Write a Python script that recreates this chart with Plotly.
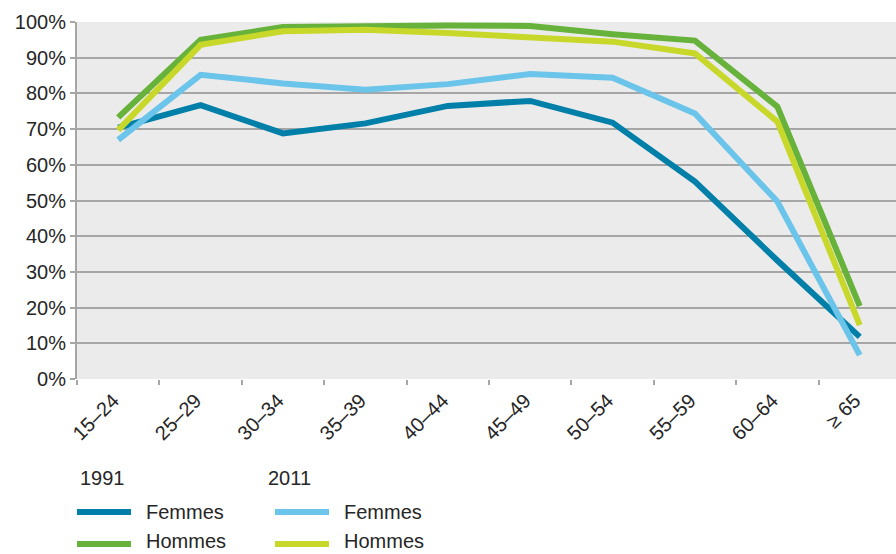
import plotly.graph_objects as go

categories = ["15–24", "25–29", "30–34", "35–39", "40–44", "45–49", "50–54", "55–59", "60–64", "≥ 65"]
femmes_1991 = [70.4, 76.7, 68.8, 71.6, 76.5, 77.9, 71.8, 55.3, 33.2, 11.8]
hommes_1991 = [73.3, 95.0, 98.6, 99.0, 99.0, 98.9, 96.6, 94.8, 76.3, 20.4]
femmes_2011 = [67.0, 85.2, 82.8, 81.0, 82.6, 85.4, 84.4, 74.4, 49.7, 6.7]
hommes_2011 = [69.7, 93.6, 97.4, 97.8, 96.9, 95.5, 94.5, 91.2, 72.1, 15.1]
y_ticks = [0, 10, 20, 30, 40, 50, 60, 70, 80, 90, 100]
y_tick_labels = [f"{v}%" for v in y_ticks]
years = ["1991", "2011"]

FONT = "Liberation Sans"
TXT = "#262626"
W, H = 896, 554
ML, MR, MT, MB = 77, 0, 22, 175
PW, PH = W - ML - MR, H - MT - MB

series = [
    ("Femmes", "1991", femmes_1991, "#0080A9"),
    ("Hommes", "1991", hommes_1991, "#67B23A"),
    ("Femmes", "2011", femmes_2011, "#6BC4EA"),
    ("Hommes", "2011", hommes_2011, "#C8D82A"),
]

fig = go.Figure()
for name, year, vals, col in series:
    fig.add_trace(go.Scatter(
        x=categories, y=vals, mode="lines", name=f"{name} {year}",
        line=dict(color=col, width=6),
        hoverinfo="skip", showlegend=False,
    ))

# manual legend (pixel positions converted to paper coordinates)
def px(x):
    return (x - ML) / PW

def py(y):
    return (H - MB - y) / PH

col_x = {"1991": 77, "2011": 275}
title_x = {"1991": 78, "2011": 266}
row_y = {"Femmes": 512, "Hommes": 544}
text_y = {"Femmes": 512, "Hommes": 541}
annotations = []
shapes = []
for year in years:
    annotations.append(dict(
        text=year, xref="paper", yref="paper", x=px(title_x[year]), y=py(478),
        xanchor="left", yanchor="middle", showarrow=False,
        font=dict(family=FONT, size=20, color=TXT),
    ))
for name, year, vals, col in series:
    x0 = col_x[year]
    shapes.append(dict(
        type="line", xref="paper", yref="paper",
        x0=px(x0), x1=px(x0 + 54), y0=py(row_y[name]), y1=py(row_y[name]),
        line=dict(color=col, width=6),
    ))
    annotations.append(dict(
        text=name, xref="paper", yref="paper", x=px(x0 + 67), y=py(text_y[name]),
        xanchor="left", yanchor="middle", showarrow=False,
        font=dict(family=FONT, size=20, color=TXT),
    ))

fig.update_layout(
    width=W, height=H,
    margin=dict(l=ML, r=MR, t=MT, b=MB, autoexpand=False),
    paper_bgcolor="white",
    plot_bgcolor="#ECEBEB",
    font=dict(family=FONT, size=20, color=TXT),
    showlegend=False,
    annotations=annotations,
    shapes=shapes,
)
fig.update_xaxes(
    type="category", range=[-0.5, 9.44],
    tickson="boundaries", ticks="outside", ticklen=5, tickwidth=2, tickcolor="#A6A6A6",
    showgrid=False, showline=False, zeroline=False,
    tickangle=-45, tickfont=dict(family=FONT, size=20, color=TXT),
    ticklabelstandoff=5, ticklabelshift=-5,
    automargin=False,
)
fig.update_yaxes(
    range=[0, 100], tickmode="array", tickvals=y_ticks, ticktext=y_tick_labels,
    ticks="outside", ticklen=5, tickwidth=2, tickcolor="#A6A6A6",
    showgrid=True, gridcolor="#A6A6A6", gridwidth=2,
    showline=True, linecolor="#A6A6A6", linewidth=2,
    zeroline=False, automargin=False,
    tickfont=dict(family=FONT, size=20, color=TXT),
)

fig.write_html(
    "out.html",
    config={"displayModeBar": False},
    post_script="document.body.style.margin='0';document.body.style.overflow='hidden';",
)
